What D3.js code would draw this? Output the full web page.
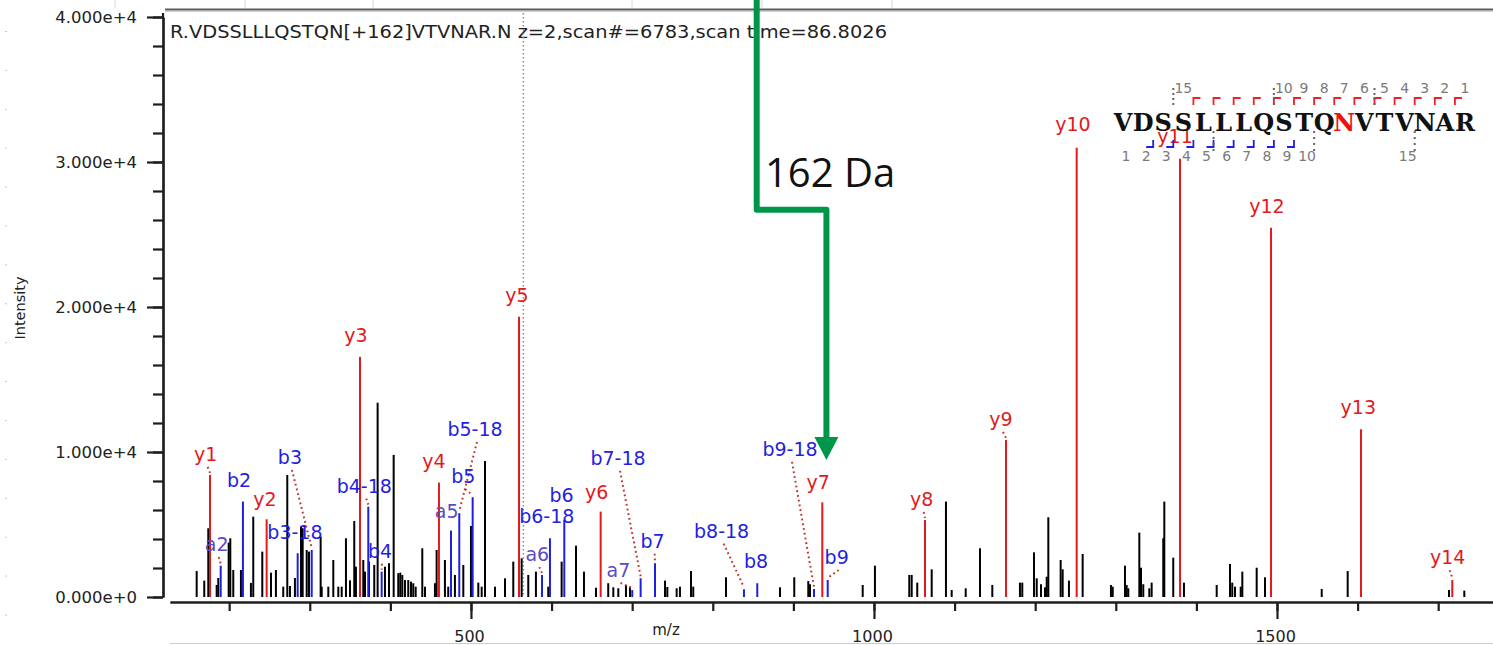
<!DOCTYPE html>
<html>
<head>
<meta charset="utf-8">
<script src="https://cdn.jsdelivr.net/npm/d3@7"></script>
<style>
  body { margin: 0; background: #fff; }
  svg { display: block; }
</style>
</head>
<body>
<div id="spectrum"></div>
<script>
// ---- data ----
const title = "R.VDSSLLLQSTQN[+162]VTVNAR.N z=2,scan#=6783,scan time=86.8026";
const sequence = "VDSSLLLQSTQNVTVNAR";
const modSite = 11;            // the N carrying +162
const precursorMz = 565;

const yTicks = [0, 10000, 20000, 30000, 40000];
const xTicks = [500, 1000, 1500];

// annotated fragment ions
const ionNames = ["y1", "a2", "b2", "y2", "b3-18", "b3", "y3", "b4-18", "b4", "y4",
  "a5", "b5-18", "b5", "y5", "a6", "b6-18", "b6", "y6", "a7", "b7-18", "b7",
  "b8-18", "b8", "b9-18", "y7", "b9", "y8", "y9", "y10", "y11", "y12", "y13", "y14"];
const ionMz = [176.2, 189.5, 217.1, 246.5, 285.0, 302.4, 362.3, 372.6, 389.2, 460.3,
  475.2, 485.5, 502.1, 559.6, 588.1, 598.0, 615.8, 660.9, 700.1, 710.5, 728.3,
  838.7, 855.2, 925.6, 935.9, 942.6, 1063.3, 1163.8, 1251.5, 1379.7, 1492.6, 1604.2, 1717.5];
const ionInt = [8420, 2160, 6580, 5360, 3020, 3240, 16560, 6230, 1750, 7890,
  4580, 5780, 6880, 19320, 1520, 4050, 5310, 5890, 480, 1290, 2330,
  530, 950, 550, 6530, 1170, 5310, 10830, 30980, 30220, 25460, 11570, 1170];

// where each label sits (m/z, intensity of its baseline centre)
const labelMz = [170.8, 184.5, 212.2, 244.4, 281.6, 275.4, 357.3, 367.6, 387.1, 454.1,
  469.8, 505.0, 490.4, 557.1, 582.3, 594.0, 612.5, 655.9, 683.0, 682.4, 725.4,
  811.0, 853.6, 895.8, 930.9, 953.7, 1059.2, 1157.6, 1246.9, 1373.5, 1487.6, 1600.9, 1711.8];
const labelInt = [9380, 3170, 7610, 6280, 4020, 9180, 17600, 7200, 2710, 8900,
  5470, 11110, 7850, 20360, 2480, 5130, 6560, 6740, 1380, 9110, 3400,
  4090, 2020, 9730, 7430, 2280, 6280, 11800, 32150, 31300, 26500, 12610, 2260];
const leaderIons = ["y1", "a2", "b3", "b4-18", "b4", "b5-18", "b5", "a6", "a7", "b7-18",
  "b7", "b8-18", "b9-18", "b9", "y8", "y9", "y14"];

// unannotated peaks [m/z, intensity]
const otherPeaks = [
  [159.7, 1790], [169.1, 1130], [174.1, 4740], [184.5, 830], [186.5, 1310], [199.4, 3750],
  [201.4, 4050], [205.1, 1860], [214.6, 1860], [227.0, 970], [229.9, 5540], [241.1, 3130],
  [251.9, 1680], [258.0, 1860], [267.1, 710], [272.1, 8420], [275.4, 760], [281.6, 1310],
  [289.1, 4850], [291.2, 4740], [296.2, 3240], [299.0, 3130], [313.5, 4160], [314.8, 710],
  [323.0, 710], [329.2, 2550], [335.4, 710], [339.6, 710], [344.9, 4050], [349.9, 1150],
  [355.2, 5240], [357.3, 2090], [366.4, 2550], [368.5, 1750], [373.4, 2440], [380.0, 2210],
  [384.2, 13400], [393.3, 2090], [398.3, 2330], [404.1, 9800], [409.8, 1640], [412.3, 1680],
  [414.8, 1520], [418.1, 1170], [422.2, 1170], [425.6, 1060], [428.4, 950], [431.4, 710],
  [439.6, 3360], [443.0, 710], [455.3, 950], [457.4, 3240], [467.7, 2550], [471.8, 710],
  [480.1, 1520], [490.5, 2210], [500.0, 4900], [509.1, 990], [513.3, 710], [517.4, 9380],
  [529.8, 710], [542.2, 1290], [552.5, 2440], [562.9, 2670], [571.1, 1520], [580.6, 1750],
  [595.9, 710], [612.5, 2440], [630.3, 3540], [640.2, 1750], [655.1, 640], [670.3, 950],
  [676.6, 670], [682.8, 600], [692.3, 830], [697.3, 710], [740.7, 1130], [743.6, 690],
  [755.2, 600], [759.3, 710], [773.0, 1790], [775.8, 710], [816.4, 1360], [883.4, 670],
  [901.1, 1360], [918.5, 1100], [920.6, 880], [986.0, 830], [1001.2, 2160], [1043.8, 1520],
  [1046.8, 1520], [1053.7, 990], [1071.6, 1910], [1089.3, 6580], [1096.4, 480], [1113.8, 600],
  [1131.5, 3360], [1146.8, 830], [1181.1, 990], [1184.0, 990], [1198.5, 3080], [1201.9, 1290],
  [1207.2, 880], [1212.2, 670], [1214.3, 1400], [1216.3, 5500], [1231.6, 2550], [1234.1, 1910],
  [1241.9, 1130], [1258.9, 2970], [1294.0, 830], [1296.2, 710], [1311.4, 2160], [1313.5, 830],
  [1315.5, 600], [1329.2, 4440], [1331.3, 2020], [1334.1, 880], [1341.6, 600], [1344.5, 990],
  [1358.9, 4050], [1360.2, 6580], [1371.3, 2710], [1384.6, 990], [1425.2, 830], [1441.7, 2280],
  [1444.5, 990], [1447.9, 710], [1455.0, 710], [1457.0, 1750], [1474.8, 2020], [1485.1, 1360],
  [1555.5, 550], [1587.7, 1790], [1713.4, 480], [1732.4, 440]
];

// sequence coverage panel
const yMatched = [1, 2, 3, 4, 5, 6, 7, 8, 9, 10, 11, 12, 13, 14];
const bMatched = [2, 3, 4, 5, 6, 7, 8, 9];
const topNumbers = [15, 10, 9, 8, 7, 6, 5, 4, 3, 2, 1];
const bottomNumbers = [1, 2, 3, 4, 5, 6, 7, 8, 9, 10, 15];

// green "162 Da" arrow (m/z, intensity)
const arrowMz = [854.5, 854.5, 941, 941];
const arrowInt = [41200, 26700, 26700, 9450];

// ---- drawing ----
const W = 1493, H = 645;
const RED = "#e31a1c", BLUE = "#1f1fe0", PURPLE = "#5a4cc8";

const svg = d3.select("#spectrum").append("svg")
  .attr("width", W).attr("height", H)
  .style("font-family", "'DejaVu Sans', sans-serif");

svg.append("rect").attr("width", W).attr("height", H).attr("fill", "#fff");

const x = d3.scaleLinear().domain([126.6, 1768]).range([170, 1493]);
const y = d3.scaleLinear().domain([0, 40000]).range([597, 17]);

// spreadsheet leftovers around the screenshot
[115, 245, 373, 632, 762, 892].forEach(function (gx) {
  svg.append("line").attr("x1", gx).attr("x2", gx).attr("y1", 0).attr("y2", 8)
    .attr("stroke", "#d8d8d8");
});
d3.range(0, 16).forEach(function (i) {
  svg.append("rect").attr("x", 5).attr("y", 31 + i * 38.9).attr("width", 2).attr("height", 1)
    .attr("fill", "#c8c8c8");
});
svg.append("line").attr("x1", 165).attr("x2", W).attr("y1", 9.5).attr("y2", 9.5)
  .attr("stroke", "#5a5a5a").attr("stroke-width", 2);
svg.append("line").attr("x1", 165).attr("x2", W).attr("y1", 11.5).attr("y2", 11.5)
  .attr("stroke", "#cfcfcf").attr("stroke-width", 1);
svg.append("line").attr("x1", 170).attr("x2", W).attr("y1", 643.5).attr("y2", 643.5)
  .attr("stroke", "#cccccc");

// title
svg.append("text").attr("x", 170).attr("y", 38)
  .attr("font-size", 17).attr("fill", "#222")
  .attr("textLength", 717).attr("lengthAdjust", "spacingAndGlyphs")
  .text(title);

// precursor marker
svg.append("line")
  .attr("x1", x(precursorMz)).attr("x2", x(precursorMz))
  .attr("y1", 13).attr("y2", y(0))
  .attr("stroke", "#8a8a8a").attr("stroke-width", 1.5)
  .attr("stroke-dasharray", "1.5,2.5");

// y axis
const yAxisG = svg.append("g").attr("transform", "translate(163,0)");
yAxisG.append("g")
  .call(d3.axisLeft(y).tickValues(d3.range(0, 40001, 2000)).tickSize(10).tickSizeOuter(0).tickFormat(""));
yAxisG.append("g")
  .call(d3.axisLeft(y).tickValues(yTicks).tickSize(16).tickSizeOuter(0).tickPadding(10)
    .tickFormat(d3.format(".3e")));
yAxisG.selectAll("path.domain").attr("stroke", "#1e1e1e").attr("stroke-width", 2.2);
yAxisG.selectAll(".tick line").attr("stroke", "#1e1e1e").attr("stroke-width", 2.2);
yAxisG.selectAll(".tick text").attr("font-size", 16.5).attr("fill", "#222")
  .attr("font-family", "'DejaVu Sans', sans-serif");
yAxisG.append("line").attr("x1", 0).attr("x2", 0).attr("y1", 13).attr("y2", 18)
  .attr("stroke", "#1e1e1e").attr("stroke-width", 2.2);

svg.append("text")
  .attr("transform", "translate(25,308) rotate(-90)")
  .attr("text-anchor", "middle").attr("font-size", 14.5).attr("fill", "#222")
  .text("Intensity");

// x axis
const xAxisG = svg.append("g").attr("transform", "translate(0,602)");
xAxisG.append("g")
  .call(d3.axisBottom(x).tickValues(d3.range(200, 1701, 100)).tickSize(9).tickSizeOuter(0).tickFormat(""));
xAxisG.append("g")
  .call(d3.axisBottom(x).tickValues(xTicks).tickSize(17).tickSizeOuter(0).tickFormat(d3.format("d")));
xAxisG.selectAll("path.domain").attr("stroke", "#1e1e1e").attr("stroke-width", 2.2);
xAxisG.selectAll(".tick line").attr("stroke", "#1e1e1e").attr("stroke-width", 2.2);
xAxisG.selectAll(".tick text").attr("font-size", 16).attr("fill", "#222")
  .attr("font-family", "'DejaVu Sans', sans-serif")
  .attr("y", 39.5).attr("dy", 0).attr("dx", -2);

svg.append("text").attr("x", 666).attr("y", 635)
  .attr("text-anchor", "middle").attr("font-size", 15).attr("fill", "#222")
  .text("m/z");

// peaks
svg.append("g").selectAll("line")
  .data(otherPeaks)
  .join("line")
  .attr("x1", d => x(d[0])).attr("x2", d => x(d[0]))
  .attr("y1", y(0)).attr("y2", d => y(d[1]))
  .attr("stroke", "#000").attr("stroke-width", 2);

const ions = ionNames.map(function (n, i) {
  return { name: n, mz: ionMz[i], int: ionInt[i], lmz: labelMz[i], lint: labelInt[i] };
});
function peakColor(n) { return n[0] === "y" ? RED : BLUE; }
function labelColor(n) { return n[0] === "y" ? RED : (n[0] === "a" ? PURPLE : BLUE); }

svg.append("g").selectAll("line")
  .data(ions)
  .join("line")
  .attr("x1", d => x(d.mz)).attr("x2", d => x(d.mz))
  .attr("y1", y(0)).attr("y2", d => y(d.int))
  .attr("stroke", d => peakColor(d.name)).attr("stroke-width", 2);

// dotted leaders
svg.append("g").selectAll("line")
  .data(ions.filter(d => leaderIons.includes(d.name)))
  .join("line")
  .attr("x1", d => x(d.lmz) + 2).attr("y1", d => y(d.lint) + 6)
  .attr("x2", d => x(d.mz)).attr("y2", d => y(d.int) - 2)
  .attr("stroke", "#c23434").attr("stroke-width", 2)
  .attr("stroke-dasharray", "1.8,3");

svg.append("g").selectAll("text")
  .data(ions)
  .join("text")
  .attr("x", d => x(d.lmz)).attr("y", d => y(d.lint))
  .attr("text-anchor", "middle").attr("font-size", 19)
  .attr("fill", d => labelColor(d.name))
  .text(d => d.name);

// sequence coverage panel
const n = sequence.length;
const seqX = d3.scaleLinear().domain([0, n - 1]).range([1123, 1465]);
const seqG = svg.append("g");

seqG.selectAll("text.aa")
  .data(sequence.split(""))
  .join("text")
  .attr("class", "aa")
  .attr("x", (d, i) => seqX(i)).attr("y", 131)
  .attr("text-anchor", "middle")
  .attr("font-family", "'DejaVu Serif', serif").attr("font-weight", "bold")
  .attr("font-size", 24)
  .attr("fill", (d, i) => i === modSite ? "#ee1111" : "#111")
  .text(d => d);

seqG.selectAll("path.yb")
  .data(yMatched)
  .join("path")
  .attr("d", k => { const bx = seqX(n - k - 0.5); return "M" + bx + ",105V98H" + (bx + 7); })
  .attr("fill", "none").attr("stroke", "#ee2222").attr("stroke-width", 1.8);

seqG.selectAll("path.bb")
  .data(bMatched)
  .join("path")
  .attr("d", k => { const bx = seqX(k - 0.5); return "M" + (bx - 7) + ",147H" + bx + "V140"; })
  .attr("fill", "none").attr("stroke", "#2020e0").attr("stroke-width", 1.8);

seqG.selectAll("text.tn")
  .data(topNumbers)
  .join("text")
  .attr("x", k => seqX(n - k - 0.5) + 10).attr("y", 93)
  .attr("text-anchor", "middle").attr("font-size", 14).attr("fill", "#7a7a7a")
  .text(k => k);

seqG.selectAll("text.bn")
  .data(bottomNumbers)
  .join("text")
  .attr("x", k => seqX(k - 0.5) - 7).attr("y", 161)
  .attr("text-anchor", "middle").attr("font-size", 14).attr("fill", "#7a7a7a")
  .text(k => k);

[5, 10, 15].forEach(function (k) {
  const tx = seqX(n - k - 0.5);
  seqG.append("line").attr("x1", tx).attr("x2", tx).attr("y1", 88).attr("y2", 108)
    .attr("stroke", "#666").attr("stroke-width", 2).attr("stroke-dasharray", "2,3");
  const bx = seqX(k - 0.5);
  seqG.append("line").attr("x1", bx).attr("x2", bx).attr("y1", 131).attr("y2", 155)
    .attr("stroke", "#666").attr("stroke-width", 2).attr("stroke-dasharray", "2,4");
});

// green arrow
const pts = arrowMz.map((m, i) => [x(m), y(arrowInt[i])]);
const headLen = 23, headHalf = 12;
const tip = pts[3];
const linePts = pts.slice(0, 3).concat([[tip[0], tip[1] - headLen + 2]]);
svg.append("path")
  .attr("d", d3.line()(linePts))
  .attr("fill", "none").attr("stroke", "#00964a").attr("stroke-width", 6)
  .attr("stroke-linejoin", "round");
svg.append("path")
  .attr("d", "M" + (tip[0] - headHalf) + "," + (tip[1] - headLen) +
    "L" + (tip[0] + headHalf) + "," + (tip[1] - headLen) +
    "L" + tip[0] + "," + tip[1] + "Z")
  .attr("fill", "#00964a");

svg.append("text").attr("x", 765).attr("y", 187)
  .attr("font-family", "'Open Sans', sans-serif").attr("font-size", 40).attr("fill", "#111")
  .text("162 Da");
</script>
</body>
</html>
